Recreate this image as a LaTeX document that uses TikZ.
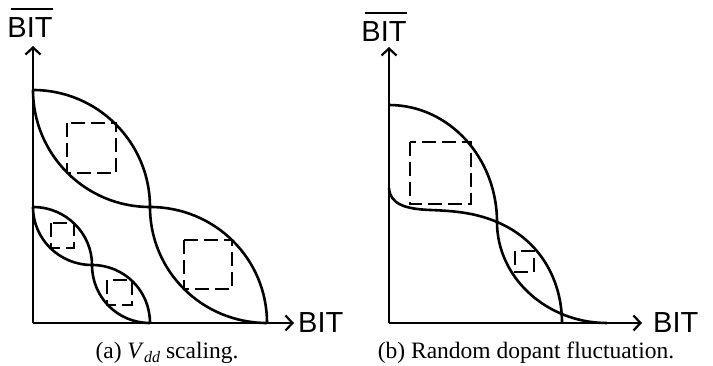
\documentclass[tikz,border=0pt]{standalone}
\usepackage{fontspec}
\setmainfont{Liberation Serif}
\newfontfamily\axisfont{Liberation Sans}
\usetikzlibrary{arrows.meta}
\tikzset{
  axis/.style={line width=2.6pt,-{Straight Barb[length=7pt,width=15pt,line width=2.2pt]}},
  curve/.style={line width=2.6pt},
  box/.style={line width=2.6pt,dash pattern=on 14pt off 6pt},
  axislabel/.style={font=\axisfont\fontsize{29}{32}\selectfont,inner sep=0pt},
  bar/.style={line width=2.2pt},
  caption/.style={font=\fontsize{23.5}{26}\selectfont,inner sep=0pt}
}
\begin{document}
\begin{tikzpicture}[x=1pt,y=-1pt]
  \useasboundingbox (0,0) rectangle (713,366);
  % (a) Vdd scaling
  \coordinate (Oa) at (33,323);
  \draw[axis] (Oa) -- (33,46) coordinate (Ya);
  \draw[axis] (Oa) -- (294,323) coordinate (Xa);
  \node[axislabel,anchor=base] (ya) at (30,38) {BIT};
  \draw[bar] ([yshift=9pt,xshift=4pt]ya.north west) -- ([yshift=9pt]ya.north east);
  \node[axislabel,anchor=base west] (xa) at (298,333) {BIT};
  % big butterfly
  \draw[curve] (33,90) .. controls (97.6,90) and (150,142.4) .. (150,207)
               .. controls (150,271.6) and (202.4,323) .. (267,323);
  \draw[curve] (33,90) .. controls (33,154.6) and (85.4,207) .. (150,207)
               .. controls (214.6,207) and (267,258.4) .. (267,323);
  % small butterfly
  \draw[curve] (33,207) .. controls (65.6,207) and (92,233) .. (92,265)
               .. controls (92,297) and (117.4,323) .. (150,323);
  \draw[curve] (33,207) .. controls (33,239) and (59.4,265) .. (92,265)
               .. controls (124.6,265) and (150,291) .. (150,323);
  \draw[box] (67,123) rectangle (116,173);
  \draw[box] (184,240) rectangle (232,289);
  \draw[box] (51,223) rectangle (74,248);
  \draw[box] (107,280) rectangle (132,305);
  \node[caption,anchor=base] (capa) at (167,359) {(a) \textit{V}\raisebox{-0.3ex}{\fontsize{16}{16}\selectfont\textit{dd}} scaling.};
  % (b) Random dopant fluctuation
  \coordinate (Ob) at (389,323);
  \draw[axis] (Ob) -- (389,47) coordinate (Yb);
  \draw[axis] (Ob) -- (642,323) coordinate (Xb);
  \node[axislabel,anchor=base] (yb) at (384,42) {BIT};
  \draw[bar] ([yshift=9pt,xshift=4pt]yb.north west) -- ([yshift=9pt]yb.north east);
  \node[axislabel,anchor=base west] (xb) at (653,333) {BIT};
  \draw[curve] (389,105) .. controls (448.6,105) and (497,157.4) .. (497,222)
               .. controls (497,277.2) and (546.3,323) .. (607,323);
  \draw[curve] (389,188) .. controls (390,204) and (405,209) .. (430,210)
               .. controls (460,211) and (478,214) .. (497,222)
               .. controls (540,240) and (562,280) .. (562,323);
  \draw[box] (410,142) rectangle (471,204);
  \draw[box] (515,251) rectangle (534,272);
  \node[caption,anchor=base] (capb) at (526,359) {(b) Random dopant fluctuation.};
\end{tikzpicture}
\end{document}
